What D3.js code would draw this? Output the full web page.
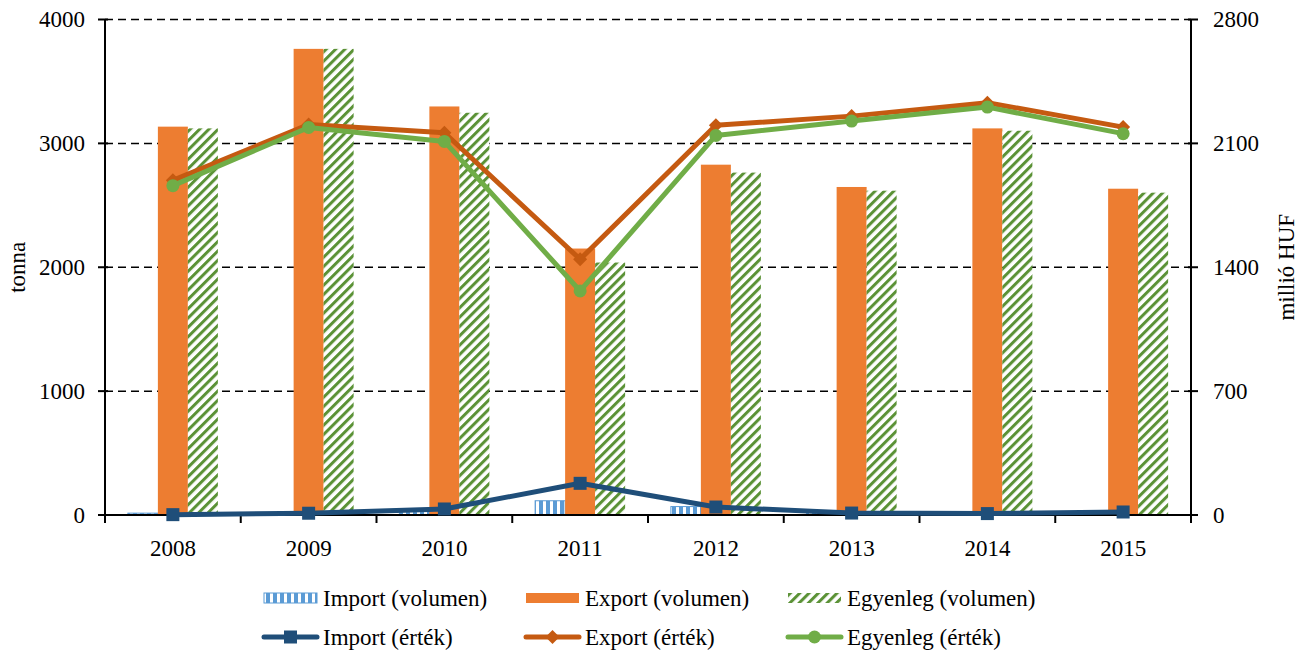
<!DOCTYPE html>
<html>
<head>
<meta charset="utf-8">
<script src="https://cdn.jsdelivr.net/npm/d3@7"></script>
<style>
  html, body { margin: 0; padding: 0; background: #fff; }
  svg { display: block; }
</style>
</head>
<body>
<svg id="chart" width="1304" height="657" font-family="'Liberation Serif', 'Times New Roman', Tinos, 'DejaVu Serif', serif"></svg>
<script>
// ---- data ----
const years = ["2008", "2009", "2010", "2011", "2012", "2013", "2014", "2015"];
const importVolumen   = [15, 3, 45, 115, 68, 30, 18, 32];
const exportVolumen   = [3135, 3763, 3298, 2151, 2828, 2648, 3121, 2634];
const egyenlegVolumen = [3121, 3763, 3247, 2038, 2764, 2618, 3102, 2602];
const importErtek     = [2, 10, 34, 179, 45, 11, 8, 17];
const exportErtek     = [1891, 2207, 2160, 1445, 2202, 2254, 2330, 2192];
const egyenlegErtek   = [1861, 2190, 2111, 1266, 2145, 2226, 2305, 2155];
const leftTicks  = [0, 1000, 2000, 3000, 4000];
const rightTicks = [0, 700, 1400, 2100, 2800];
const leftTitle = "tonna";
const rightTitle = "millió HUF";
const legendRow1 = ["Import (volumen)", "Export (volumen)", "Egyenleg (volumen)"];
const legendRow2 = ["Import (érték)", "Export (érték)", "Egyenleg (érték)"];

// ---- layout ----
const L = 105, R = 1191, T = 19.5, B = 515;
const FS = 23;
const svg = d3.select("#chart");

const x = d3.scaleBand().domain(years).range([L, R]).padding(0);
const yL = d3.scaleLinear().domain([0, 4000]).range([B, T]);
const yR = d3.scaleLinear().domain([0, 2800]).range([B, T]);
const barW = 30;

const col = {
  imp: "#5b9bd5",
  exp: "#ed7d31",
  egy: "#5b9236",
  impLine: "#1f4e79",
  expLine: "#c55a11",
  egyLine: "#70ad47"
};

// patterns
const defs = svg.append("defs");
const hatch = defs.append("pattern")
  .attr("id", "hatchGreen")
  .attr("patternUnits", "userSpaceOnUse")
  .attr("width", 6.6).attr("height", 10)
  .attr("patternTransform", "rotate(45)");
hatch.append("rect").attr("width", 6.6).attr("height", 10).attr("fill", "#fff");
hatch.append("rect").attr("x", 0).attr("width", 3).attr("height", 10).attr("fill", col.egy);

const vstripe = defs.append("pattern")
  .attr("id", "vstripeBlue")
  .attr("patternUnits", "userSpaceOnUse")
  .attr("width", 7).attr("height", 10);
vstripe.append("rect").attr("width", 7).attr("height", 10).attr("fill", col.imp);
vstripe.append("rect").attr("x", 4).attr("width", 3).attr("height", 10).attr("fill", "#fff");

// gridlines
svg.append("g").selectAll("line")
  .data(leftTicks.filter(d => d > 0))
  .join("line")
  .attr("x1", L).attr("x2", R)
  .attr("y1", d => yL(d)).attr("y2", d => yL(d))
  .attr("stroke", "#000").attr("stroke-width", 1.5)
  .attr("stroke-dasharray", "8,5");

// bars
const bars = svg.append("g");
function drawBars(vals, offset, fill, stroke) {
  bars.append("g").selectAll("rect")
    .data(years.map((y, i) => ({ y, v: vals[i] })))
    .join("rect")
    .attr("x", d => x(d.y) + x.bandwidth() / 2 + offset)
    .attr("width", barW)
    .attr("y", d => yL(d.v))
    .attr("height", d => B - yL(d.v))
    .attr("fill", fill)
    .attr("stroke", stroke || "none")
    .attr("stroke-width", stroke ? 1 : 0);
}
drawBars(importVolumen, -45, "url(#vstripeBlue)", col.imp);
drawBars(exportVolumen, -15, col.exp);
drawBars(egyenlegVolumen, 15, "url(#hatchGreen)");

// axes
const axisG = svg.append("g");
axisG.append("line").attr("x1", L).attr("x2", L).attr("y1", T).attr("y2", B)
  .attr("stroke", "#000").attr("stroke-width", 2);
axisG.append("line").attr("x1", R).attr("x2", R).attr("y1", T).attr("y2", B)
  .attr("stroke", "#000").attr("stroke-width", 2);
axisG.append("line").attr("x1", L).attr("x2", R).attr("y1", B).attr("y2", B)
  .attr("stroke", "#000").attr("stroke-width", 2);

// left ticks
axisG.selectAll(".lt").data(leftTicks).join("line")
  .attr("x1", L - 7).attr("x2", L + 3)
  .attr("y1", d => yL(d)).attr("y2", d => yL(d))
  .attr("stroke", "#000").attr("stroke-width", 2);
axisG.selectAll(".ltl").data(leftTicks).join("text")
  .attr("x", 85).attr("y", d => yL(d))
  .attr("dy", "0.34em")
  .attr("text-anchor", "end")
  .attr("font-size", FS)
  .text(d => d);

// right ticks
axisG.selectAll(".rt").data(rightTicks).join("line")
  .attr("x1", R - 3).attr("x2", R + 7)
  .attr("y1", d => yR(d)).attr("y2", d => yR(d))
  .attr("stroke", "#000").attr("stroke-width", 2);
axisG.selectAll(".rtl").data(rightTicks).join("text")
  .attr("x", 1213).attr("y", d => yR(d))
  .attr("dy", "0.34em")
  .attr("text-anchor", "start")
  .attr("font-size", FS)
  .text(d => d);

// bottom ticks at band boundaries
const bounds = years.map(y => x(y)).concat([R]);
axisG.selectAll(".bt").data(bounds).join("line")
  .attr("x1", d => d).attr("x2", d => d)
  .attr("y1", B).attr("y2", B + 8)
  .attr("stroke", "#000").attr("stroke-width", 2);
axisG.selectAll(".btl").data(years).join("text")
  .attr("x", d => x(d) + x.bandwidth() / 2)
  .attr("y", 556)
  .attr("text-anchor", "middle")
  .attr("font-size", FS)
  .text(d => d);

// axis titles
svg.append("text")
  .attr("transform", `translate(25,${(T + B) / 2}) rotate(-90)`)
  .attr("text-anchor", "middle")
  .attr("font-size", FS)
  .text(leftTitle);
svg.append("text")
  .attr("transform", `translate(1294,${(T + B) / 2}) rotate(-90)`)
  .attr("text-anchor", "middle")
  .attr("font-size", FS)
  .text(rightTitle);

// lines
const lineG = svg.append("g");
function drawLine(vals, color, width, marker) {
  const pts = years.map((y, i) => [x(y) + x.bandwidth() / 2, yR(vals[i])]);
  lineG.append("path")
    .attr("d", d3.line()(pts))
    .attr("fill", "none")
    .attr("stroke", color)
    .attr("stroke-width", width)
    .attr("stroke-linejoin", "round");
  const g = lineG.append("g");
  pts.forEach(p => drawMarker(g, p[0], p[1], marker, color));
}
function drawMarker(g, cx, cy, marker, color) {
  if (marker === "square") {
    g.append("rect").attr("x", cx - 6.5).attr("y", cy - 6.5)
      .attr("width", 13).attr("height", 13).attr("fill", color);
  } else if (marker === "diamond") {
    g.append("path")
      .attr("d", `M${cx},${cy - 7}L${cx + 7},${cy}L${cx},${cy + 7}L${cx - 7},${cy}Z`)
      .attr("fill", color);
  } else {
    g.append("circle").attr("cx", cx).attr("cy", cy).attr("r", 6.5).attr("fill", color);
  }
}
drawLine(importErtek, col.impLine, 5, "square");
drawLine(exportErtek, col.expLine, 5, "diamond");
drawLine(egyenlegErtek, col.egyLine, 5, "circle");

// legend
const leg = svg.append("g");
const legX = [264, 526, 788];
const swW = 53;
const row1Y = 598, row2Y = 637;
const volFills = ["url(#vstripeBlue)", col.exp, "url(#hatchGreen)"];
legendRow1.forEach((t, i) => {
  leg.append("rect")
    .attr("x", legX[i]).attr("y", row1Y - 5)
    .attr("width", swW).attr("height", 10)
    .attr("fill", volFills[i])
    .attr("stroke", i === 0 ? col.imp : "none");
  leg.append("text")
    .attr("x", legX[i] + swW + 6).attr("y", row1Y)
    .attr("dy", "0.34em")
    .attr("font-size", FS)
    .text(t);
});
const lineCols = [col.impLine, col.expLine, col.egyLine];
const markers = ["square", "diamond", "circle"];
legendRow2.forEach((t, i) => {
  leg.append("line")
    .attr("x1", legX[i]).attr("x2", legX[i] + swW)
    .attr("y1", row2Y).attr("y2", row2Y)
    .attr("stroke", lineCols[i]).attr("stroke-width", 5)
    .attr("stroke-linecap", "round");
  drawMarker(leg, legX[i] + swW / 2, row2Y, markers[i], lineCols[i]);
  leg.append("text")
    .attr("x", legX[i] + swW + 6).attr("y", row2Y)
    .attr("dy", "0.34em")
    .attr("font-size", FS)
    .text(t);
});
</script>
</body>
</html>
